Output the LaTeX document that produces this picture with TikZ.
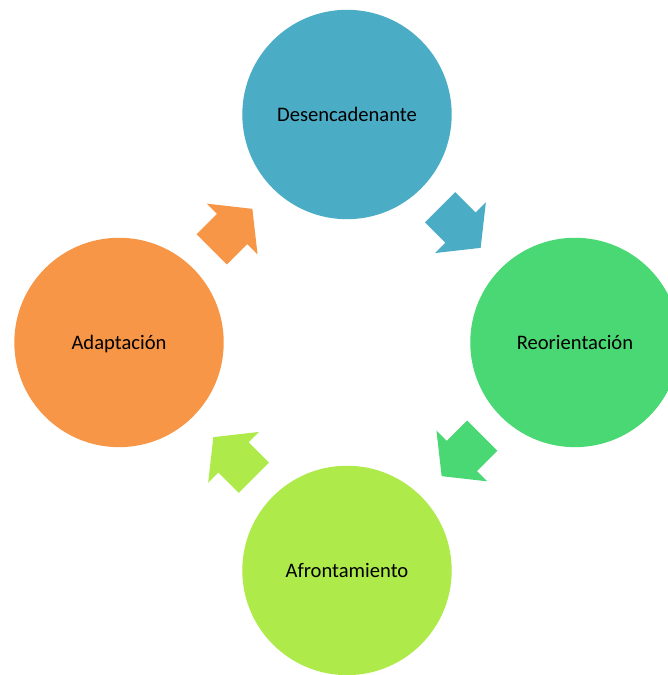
\documentclass[tikz,border=0pt]{standalone}
\usepackage{fontspec}
\setmainfont{Carlito}
\usetikzlibrary{shapes.arrows}
\definecolor{stageaqua}{RGB}{75,172,198}
\definecolor{stagegreen}{RGB}{74,216,116}
\definecolor{stagelime}{RGB}{174,234,74}
\definecolor{stageorange}{RGB}{247,150,70}

\begin{document}
\begin{tikzpicture}[x=1pt, y=1pt, node distance=322.4pt,
    main node/.style={circle, minimum size=209.4pt, inner sep=0pt, text height=13.3pt, text depth=0pt,
      font=\fontsize{20.6}{24}\selectfont},
    flow arrow/.style={single arrow, anchor=tail, inner xsep=0pt, inner ysep=21.2pt,
      single arrow head extend=14.5pt, single arrow tip angle=103, minimum height=57.3pt}]
          \useasboundingbox (0,0) rectangle (668,675);

          \node[main node, fill=stageaqua] (1) at (347,560.5) {Desencadenante};
          \node[main node, fill=stagegreen] (2) [below right of=1] {Reorientación};
          \node[main node, fill=stagelime] (3) [below left of=2] {Afrontamiento};
          \node[main node, fill=stageorange] (4) [above left of=3] {Adaptación};

          % arrows between the stages
          \node[flow arrow, fill=stageaqua, rotate=-45] (a12) at (440,467.8) {};
          \node[flow arrow, fill=stagegreen, rotate=-135] (a23) at (482.3,239.5) {};
          \node[flow arrow, fill=stagelime, rotate=135] (a34) at (254,197.2) {};
          \node[flow arrow, fill=stageorange, rotate=45] (a41) at (211.7,425.5) {};
        \end{tikzpicture}
\end{document}
